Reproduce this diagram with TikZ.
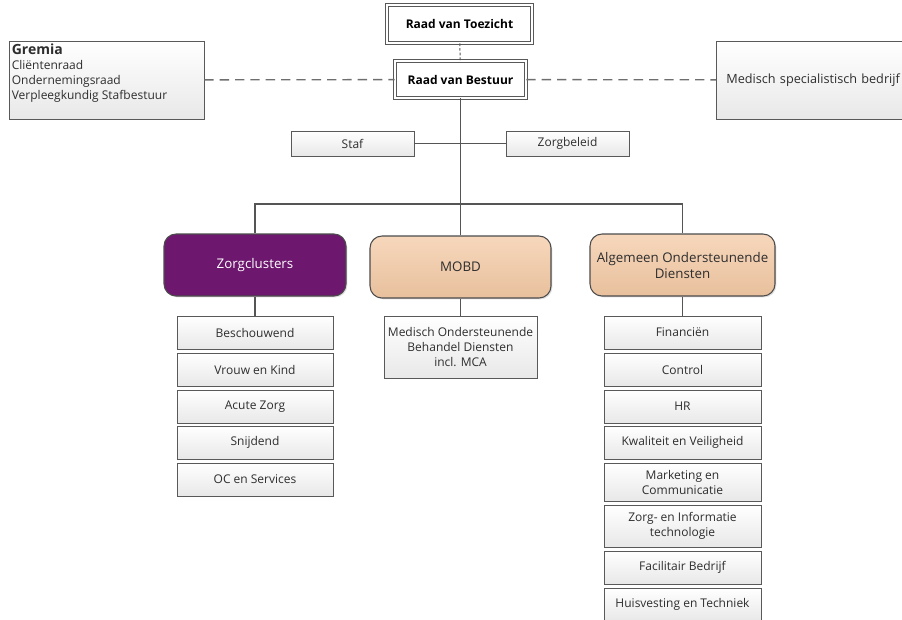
\documentclass[tikz,border=0pt]{standalone}
\usepackage{fontspec}
\setmainfont{Open Sans}
\usetikzlibrary{shadows}
\definecolor{lijn}{HTML}{555555}
\definecolor{paars}{HTML}{6D176F}
\definecolor{perzik}{HTML}{F4CAA5}
\definecolor{tekst}{HTML}{2E2E2E}

\begin{document}
\begin{tikzpicture}[x=0.75pt,y=-0.75pt,
  wh/.style 2 args={minimum width=#1*0.75pt, minimum height=#2*0.75pt},
  afd/.style={draw=black!65, line width=0.6pt, top color=white, bottom color=black!9, text=tekst,
    font=\fontsize{9}{11.25}\selectfont, align=center, inner sep=0pt,
    drop shadow={shadow xshift=1pt, shadow yshift=-1pt, opacity=0.25}},
  raad/.style={draw=black!65, fill=white, line width=0.6pt, double=white, double distance=1.3pt,
    text=black, font=\bfseries\fontsize{9}{11}\selectfont, align=center, inner sep=0pt,
    drop shadow={shadow xshift=1pt, shadow yshift=-1pt, opacity=0.25}},
  hoofd/.style={draw=black!70, line width=0.8pt, rounded corners=9pt, align=center, inner sep=0pt,
    font=\fontsize{10}{12}\selectfont,
    drop shadow={shadow xshift=1pt, shadow yshift=-1pt, opacity=0.25}},
  verbind/.style={draw=lijn, line width=1.1pt},
  stippel/.style={draw=lijn!85, line width=1pt, dash pattern=on 7pt off 4.5pt}]
\useasboundingbox (0,0) rectangle (902,619);

% top
\node[raad, wh={145}{38}] (rvt) at (459.5,24) {Raad van Toezicht};
\node[raad, wh={131}{37}] (rvb) at (460.5,79.5) {Raad van Bestuur};
\node[afd, wh={195}{78}] (gremia) at (106.5,80) {\parbox[c][54pt][t]{142pt}{\raggedright
  {\fontsize{10.5}{12}\selectfont\bfseries Gremia}\\Cliëntenraad\\Ondernemingsraad\\Verpleegkundig Stafbestuur}};
\node[afd, anchor=west, minimum height=78*0.75pt, inner xsep=7.5pt, text width=170pt, align=left,
  font=\fontsize{9.5}{12}\selectfont] (msb) at (716,80) {Medisch specialistisch bedrijf};
\node[afd, wh={123}{25}] (staf) at (352.5,143.5) {Staf};
\node[afd, wh={123}{25}] (zb) at (567.5,143.5) {Zorgbeleid};

% clusters
\node[hoofd, wh={182}{62}, fill=paars, text=white] (zc) at (255,265) {Zorgclusters};
\node[hoofd, wh={181}{62}, top color=perzik!75!white, bottom color=perzik!95!black, text=tekst] (mobd) at (460.5,267) {MOBD};
\node[hoofd, wh={185}{62}, top color=perzik!75!white, bottom color=perzik!95!black, text=tekst] (aod) at (682.5,265) {Algemeen Ondersteunende\\Diensten};
\coordinate (balk) at (460,204);

\foreach \y/\t [count=\i] in {332.5/Beschouwend, 369.5/Vrouw en Kind, 406.5/Acute Zorg, 442.5/Snijdend, 479.5/OC en Services}
  \node[afd, wh={156}{33}] (zc\i) at (255,\y) {\t};
\node[afd, wh={153}{62}] (mobd1) at (460.5,347) {Medisch Ondersteunende\\Behandel Diensten\\incl. MCA};
\foreach \y/\h/\t [count=\i] in {332.5/33/Financiën, 369.5/33/Control, 406.5/33/HR, 442.5/33/Kwaliteit en Veiligheid,
    482/38/{Marketing en\\Communicatie}, 526/42/{Zorg- en Informatie\\technologie}, 567.5/33/Facilitair Bedrijf,
    604.5/33/Huisvesting en Techniek}
  \node[afd, wh={157}{\h}] (aod\i) at (682.5,\y) {\t};

% lijnen
\draw[draw=lijn, line width=0.75pt, dash pattern=on 2pt off 1.5pt] (rvt) -- (rvb);
\draw[stippel] (gremia) -- (rvb);
\draw[stippel] (rvb) -- (msb);
\draw[verbind] (rvb) -- (mobd);
\draw[verbind] (staf) -- (zb);
\draw[verbind] (zc) |- (balk) -| (aod);
\draw[verbind] (zc) -- (zc1);
\draw[verbind] (mobd) -- (mobd1);
\draw[verbind] (aod) -- (aod1);
\end{tikzpicture}
\end{document}
